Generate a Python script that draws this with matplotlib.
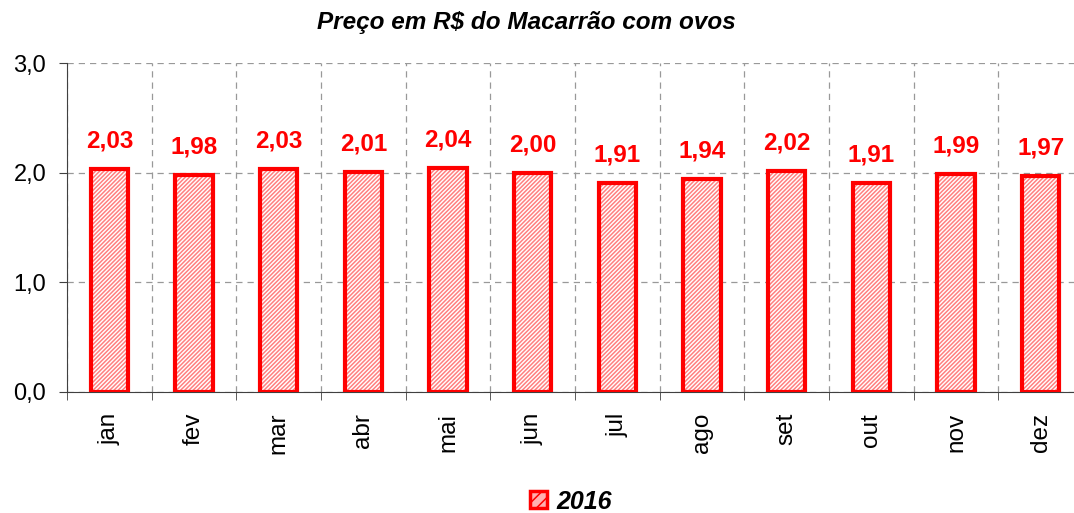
import numpy as np
import matplotlib.pyplot as plt
from matplotlib.patches import Patch

plt.rcParams['font.family'] = ['Liberation Sans', 'DejaVu Sans']
plt.rcParams['hatch.linewidth'] = 1.1

# Data
meses = ['jan', 'fev', 'mar', 'abr', 'mai', 'jun', 'jul', 'ago', 'set', 'out', 'nov', 'dez']
precos = [2.03, 1.98, 2.03, 2.01, 2.04, 2.00, 1.91, 1.94, 2.02, 1.91, 1.99, 1.97]
serie = '2016'
yticks = [0.0, 1.0, 2.0, 3.0]

red = '#ff0000'
fig = plt.figure(figsize=(10.74, 5.13), dpi=100)
# plot area runs slightly past the right edge of the image, as in the original
ax = fig.add_axes([0.0624, 0.236, 0.946, 0.641])

x = np.arange(len(meses))
w = 0.44
# hatch fill (lighter lines) then solid outline on top
ax.bar(x, precos, width=w, color='white', edgecolor='#ff8080', hatch='////////',
       linewidth=0, zorder=3)
ax.bar(x, precos, width=w, fill=False, edgecolor=red, linewidth=3, zorder=4)

for xi, v in zip(x, precos):
    ax.text(xi, v + 0.15, f'{v:.2f}'.replace('.', ','), ha='center', va='bottom',
            color=red, fontsize=17.5, fontweight='bold', zorder=5)

ax.set_xlim(-0.5, len(meses) - 0.5)
ax.set_ylim(0, 3)
ax.set_yticks(yticks)
ax.set_yticklabels([f'{t:.1f}'.replace('.', ',') for t in yticks], fontsize=17)
ax.set_xticks(x)
ax.set_xticklabels(meses, rotation=90, fontsize=17.5)
ax.set_xticks(np.arange(-0.5, len(meses)), minor=True)
ax.tick_params(axis='x', which='major', length=0, pad=15)
ax.tick_params(axis='x', which='minor', length=6, color='#404040')
ax.tick_params(axis='y', length=6, color='#404040', pad=9)

ax.grid(axis='y', which='major', color='#999999', linestyle=(0, (5, 4)), linewidth=0.9)
ax.grid(axis='x', which='minor', color='#999999', linestyle=(0, (5, 4)), linewidth=0.9)
ax.set_axisbelow(True)
for s in ['top', 'right']:
    ax.spines[s].set_visible(False)
ax.spines['left'].set_color('#404040')
ax.spines['bottom'].set_color('#404040')

fig.text(0.49, 0.957, 'Preço em R$ do Macarrão com ovos', ha='center', va='center',
         fontsize=17.5, fontweight='bold', style='italic')

handle = Patch(facecolor='#ffb0b0', edgecolor=red, hatch='///', linewidth=2.5)
fig.legend([handle], [serie], loc='lower center', bbox_to_anchor=(0.532, -0.045),
           frameon=False, prop={'size': 18, 'weight': 'bold', 'style': 'italic'},
           handlelength=0.65, handleheight=0.65, handletextpad=0.4)

fig.savefig('out.png', dpi=100)
